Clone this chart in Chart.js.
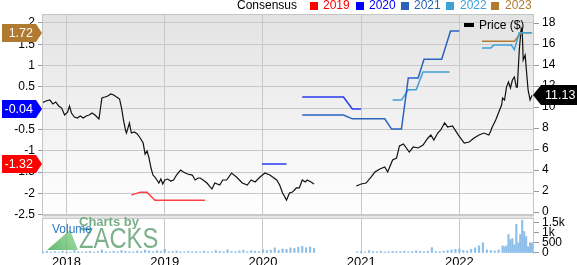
<!DOCTYPE html>
<html><head><meta charset="utf-8">
<script src="https://cdn.jsdelivr.net/npm/chart.js@4.4.0/dist/chart.umd.min.js"></script>
<style>
html,body{margin:0;padding:0;background:#fff;}
#wrap{position:relative;width:577px;height:265px;}
canvas{position:absolute;left:0;top:0;}
</style></head>
<body><div id="wrap"><canvas id="c1" width="577" height="265"></canvas><canvas id="c2" width="577" height="265"></canvas></div>
<script>
// ---------- DATA ----------
const yearTicks = [2018, 2019, 2020, 2021, 2022];
const leftTicks = [-2.5, -2, -1.5, -1, -0.5, 0, 0.5, 1, 1.5, 2];
const priceTicks = [0, 2, 4, 6, 8, 10, 12, 14, 16, 18];
const volumeTicks = [0, 500, 1000, 1500];
const volumeTickLabels = ['0', '500', '1k', '1.5k'];

const priceDates = [2017.75,2017.79,2017.83,2017.86,2017.89,2017.92,2017.95,2017.98,2018.01,2018.03,2018.05,2018.08,2018.11,2018.14,2018.17,2018.20,2018.23,2018.26,2018.29,2018.33,2018.36,2018.39,2018.42,2018.45,2018.48,2018.51,2018.54,2018.56,2018.58,2018.60,2018.61,2018.64,2018.66,2018.69,2018.72,2018.75,2018.78,2018.80,2018.82,2018.84,2018.86,2018.88,2018.90,2018.92,2018.94,2018.96,2018.98,2019.00,2019.03,2019.06,2019.09,2019.12,2019.16,2019.19,2019.23,2019.28,2019.31,2019.34,2019.36,2019.39,2019.43,2019.48,2019.51,2019.56,2019.59,2019.63,2019.68,2019.73,2019.79,2019.84,2019.88,2019.92,2019.97,2020.02,2020.07,2020.14,2020.17,2020.20,2020.24,2020.27,2020.30,2020.34,2020.37,2020.40,2020.43,2020.45,2020.49,2020.52,
  2020.70,
  2020.95,2021.00,2021.05,2021.10,2021.14,2021.19,2021.24,2021.27,2021.32,2021.36,2021.39,2021.43,2021.49,2021.53,2021.58,2021.63,2021.68,2021.71,2021.74,2021.78,2021.81,2021.85,2021.88,2021.93,2021.99,2022.05,2022.10,2022.15,2022.20,2022.25,2022.30,2022.32,2022.33,2022.37,2022.41,2022.43,2022.44,2022.46,2022.48,2022.50,2022.52,2022.54,2022.56,2022.58,2022.59,2022.61,2022.63,2022.64,2022.65,2022.67,2022.68,2022.70,2022.72,2022.74];
const priceValues = [10.38,10.57,10.67,10.29,10.48,10.10,9.90,9.24,9.52,10.10,9.43,9.05,8.95,9.14,8.95,9.14,9.24,9.43,9.24,8.86,10.86,10.95,11.05,11.24,11.14,10.95,10.76,9.90,8.76,7.81,7.52,8.48,7.52,7.62,7.43,7.05,6.57,5.52,5.81,5.14,4.19,3.52,3.33,3.05,2.76,3.14,2.67,3.05,3.14,2.95,3.05,3.52,4.00,3.81,3.62,3.52,3.05,3.24,3.24,3.05,2.76,2.19,2.76,2.57,3.05,3.05,3.71,3.33,2.76,2.57,3.05,2.86,3.33,3.71,3.52,3.05,2.57,1.81,1.14,1.81,1.90,2.29,2.29,3.05,2.86,3.05,2.86,2.67,
  null,
  2.48,2.67,2.76,3.33,3.81,4.10,4.29,3.81,4.95,5.14,6.30,6.48,5.71,6.19,6.10,6.38,7.05,7.33,6.86,7.52,7.81,8.48,8.10,8.20,7.33,6.57,6.67,7.05,7.33,7.52,7.33,7.71,8.00,8.76,9.71,10.19,10.86,10.67,11.90,12.38,11.81,12.57,12.86,11.90,11.90,15.43,17.52,17.30,14.48,14.95,13.80,11.60,10.67,11.13];

const cons2019Dates = [2018.66, 2018.75, 2018.82, 2018.90, 2019.41];
const cons2019 = [-2.04, -1.97, -1.97, -2.16, -2.16];
const cons2020Dates = [2019.99, 2020.24, 2020.32, 2020.40, 2020.82, 2020.91, 2021.00];
const cons2020 = [-1.31, -1.31, null, 0.26, 0.26, -0.02, -0.02];
const cons2021Dates = [2020.40, 2020.82, 2020.91, 2021.24, 2021.31, 2021.41, 2021.48, 2021.58, 2021.64, 2021.82, 2021.91, 2022.00];
const cons2021 = [-0.16, -0.16, -0.25, -0.25, -0.49, -0.49, 0.71, 0.71, 1.15, 1.15, 1.81, 1.81];
const cons2022Dates = [2021.32, 2021.41, 2021.48, 2021.56, 2021.63, 2021.90, 2022.10, 2022.23, 2022.32, 2022.35, 2022.53, 2022.56, 2022.61, 2022.74];
const cons2022 = [0.19, 0.19, 0.43, 0.43, 0.85, 0.85, null, 1.41, 1.41, 1.48, 1.48, 1.37, 1.77, 1.77];
const cons2023Dates = [2022.23, 2022.56, 2022.63, 2022.74];
const cons2023 = [1.57, 1.57, 1.77, 1.77];

// volume: three runs of dates (start, step) with values
const volA_start = 2017.76, volA_step = 0.04;
const volA = [60,80,50,70,40,90,60,50,120,70, 50,60,80,40,70,150,60,50,90,60, 120,80,60,50,100,70,140,90,60,110, 80,180,60,70,100,60,50,80,60,70, 50,90,60,50,120,80,60,150,70,60, 100,130,60,110,90,70,160,120,140,250, 120,200,180,250,220,280,330,260,300,220];
const volB_start = 2020.96, volB_step = 0.04;
const volB = [60,90,50,120,70,60,90,50,60,80, 60,70,90,60,70,110,80,60,90,260, 70,60,90,120,150,180,200,120,100,180, 250,350,500,150,120,100,150,350];
const volC_start = 2022.46, volC_step = 0.02;
const volC = [300,350,900,650,700,400,1400,500,900,1600,1050,800,300,500,500];

const badgeLeft = [
  {text:'1.72', color:'#b07a30', series:'2023'},
  {text:'-0.04', color:'#0000ff', series:'2020'},
  {text:'-1.32', color:'#ff0000', value:-1.32}
];
const priceLast = '11.13';
const legendItems = [
  {label:'2019', color:'#ff0000'},
  {label:'2020', color:'#0000ff'},
  {label:'2021', color:'#2a62b8'},
  {label:'2022', color:'#3fa0d6'},
  {label:'2023', color:'#b07a30'}
];

// ---------- HELPERS ----------
const FONT = '"Liberation Sans", Arial, Helvetica, sans-serif';
const X_MIN = 2017.75, X_MAX = 2022.76;
function zip(xs, ys){ return xs.map((x,i)=>({x:x, y:ys[i]})); }
function run(start, step, vals){ return vals.map((v,i)=>({x:+(start+i*step).toFixed(3), y:v})); }
const volData = run(volA_start,volA_step,volA).concat(run(volB_start,volB_step,volB), run(volC_start,volC_step,volC));

function leftBadge(ctx, y, text, color){
  ctx.save();
  ctx.beginPath();
  ctx.moveTo(2, y-9); ctx.lineTo(36, y-9); ctx.lineTo(42, y); ctx.lineTo(36, y+9); ctx.lineTo(2, y+9); ctx.closePath();
  ctx.fillStyle = color; ctx.fill();
  ctx.fillStyle = '#fff'; ctx.font = '12.5px ' + FONT; ctx.textAlign = 'right'; ctx.textBaseline = 'middle';
  ctx.fillText(text, 33, y+0.5);
  ctx.restore();
}

const bgPlugin = {
  id:'bg',
  beforeDraw(chart){
    const {ctx, chartArea:a} = chart;
    ctx.save();
    ctx.fillStyle = '#fff'; ctx.fillRect(0,0,chart.width,chart.height);
    const g = ctx.createLinearGradient(0, a.top, 0, a.bottom);
    g.addColorStop(0, '#e3e3e3'); g.addColorStop(1, '#ffffff');
    ctx.fillStyle = g; ctx.fillRect(a.left, a.top, a.right-a.left, a.bottom-a.top);
    ctx.restore();
  }
};

const overlayPlugin = {
  id:'overlay',
  afterDraw(chart){
    const {ctx, chartArea:a} = chart;
    ctx.save();
    // borders
    ctx.strokeStyle = '#c4c4c4'; ctx.lineWidth = 1;
    ctx.beginPath();
    ctx.moveTo(a.left, a.top+0.5); ctx.lineTo(a.right, a.top+0.5);
    ctx.moveTo(a.left+0.5, a.top); ctx.lineTo(a.left+0.5, 254);
    ctx.moveTo(a.right-0.5, a.top); ctx.lineTo(a.right-0.5, 254);
    ctx.stroke();
    // separator
    ctx.fillStyle = '#e6e6e6'; ctx.fillRect(a.left, 215.5, a.right-a.left, 3);
    ctx.strokeStyle = '#c8c8c8';
    ctx.beginPath(); ctx.moveTo(a.left, 215.5); ctx.lineTo(a.right, 215.5);
    ctx.moveTo(a.left, 218.5); ctx.lineTo(a.right, 218.5); ctx.stroke();

    // top legend
    ctx.font = '12px ' + FONT; ctx.textBaseline = 'middle'; ctx.textAlign = 'left';
    ctx.fillStyle = '#000'; ctx.fillText('Consensus', 237, 6);
    const sq = [310, 356, 401, 446, 491], tx = [323, 369, 414, 460, 505];
    legendItems.forEach((it,i)=>{
      ctx.fillStyle = it.color; ctx.fillRect(sq[i], 2, 8, 8);
      ctx.fillText(it.label, tx[i], 6);
    });

    // price legend
    ctx.fillStyle = '#000'; ctx.fillRect(464, 23, 10, 4);
    ctx.fillText('Price ($)', 479, 25.5);

    // left badges
    const yL = chart.scales.yL;
    badgeLeft.forEach(b=>{
      let v = b.value;
      if (b.series){
        const ds = chart.data.datasets.find(d=>d.label===b.series);
        v = ds.data[ds.data.length-1].y;
      }
      leftBadge(ctx, Math.round(yL.getPixelForValue(v)), b.text, b.color);
    });

    // right price badge
    const yR = chart.scales.yR;
    const py = Math.round(yR.getPixelForValue(parseFloat(priceLast)));
    ctx.beginPath();
    ctx.moveTo(533, py); ctx.lineTo(541, py-10); ctx.lineTo(577, py-10); ctx.lineTo(577, py+10); ctx.lineTo(541, py+10); ctx.closePath();
    ctx.fillStyle = '#000'; ctx.fill();
    ctx.fillStyle = '#fff'; ctx.font = '12.5px ' + FONT; ctx.textAlign = 'left';
    ctx.fillText(priceLast, 545, py+0.5);
    ctx.restore();
  }
};

const axisFont = {family: FONT, size: 12};

new Chart(document.getElementById('c1'), {
  type: 'line',
  data: { datasets: [
    {label:'2019', data: zip(cons2019Dates, cons2019), borderColor:'#ff4040', borderWidth:1.5, yAxisID:'yL'},
    {label:'2020', data: zip(cons2020Dates, cons2020), borderColor:'#2a3cf0', borderWidth:1.5, yAxisID:'yL'},
    {label:'2021', data: zip(cons2021Dates, cons2021), borderColor:'#2a62c0', borderWidth:1.5, yAxisID:'yL'},
    {label:'2022', data: zip(cons2022Dates, cons2022), borderColor:'#3fa0d8', borderWidth:1.5, yAxisID:'yL'},
    {label:'2023', data: zip(cons2023Dates, cons2023), borderColor:'#b07a30', borderWidth:1.5, yAxisID:'yL'},
    {label:'Price', data: zip(priceDates, priceValues), borderColor:'#111', borderWidth:1.2, yAxisID:'yR'}
  ]},
  options: {
    responsive:false, animation:false, devicePixelRatio:1,
    layout:{padding:{top:14, bottom:49, left:0, right:0}},
    plugins:{legend:{display:false}, tooltip:{enabled:false}},
    elements:{point:{radius:0}, line:{tension:0}},
    spanGaps:false,
    scales:{
      x:{type:'linear', min:X_MIN, max:X_MAX,
        afterBuildTicks(s){ s.ticks = yearTicks.map(v=>({value:v})); },
        ticks:{display:false},
        grid:{color:'#c8c8c8', drawTicks:false},
        border:{display:false},
        afterFit(s){ s.height = 0; }
      },
      yL:{position:'left', min:-2.53, max:2.21,
        afterBuildTicks(s){ s.ticks = leftTicks.map(v=>({value:v})); },
        ticks:{font:axisFont, color:'#000', padding:3, autoSkip:false, callback:v=>String(Math.round(v*10)/10)},
        grid:{color:'#c8c8c8', tickLength:4, tickColor:'#999'},
        border:{display:false},
        afterFit(s){ s.width = 42; }
      },
      yR:{position:'right', min:-0.38, max:18.86,
        afterBuildTicks(s){ s.ticks = priceTicks.map(v=>({value:v})); },
        ticks:{font:axisFont, color:'#000', padding:3, autoSkip:false, callback:v=>String(v)},
        grid:{drawOnChartArea:false, tickLength:5, tickColor:'#999'},
        border:{display:false},
        afterFit(s){ s.width = 43; }
      }
    }
  },
  plugins:[bgPlugin, overlayPlugin]
});

const watermarkPlugin = {
  id:'wm',
  afterDraw(chart){
    const ctx = chart.ctx;
    ctx.save();
    const g = ctx.createLinearGradient(48, 250, 76, 230);
    g.addColorStop(0, 'rgba(60,170,80,0.8)'); g.addColorStop(1, 'rgba(140,210,140,0.8)');
    ctx.beginPath(); ctx.moveTo(47, 250); ctx.lineTo(70, 230); ctx.lineTo(78, 250); ctx.closePath();
    ctx.fillStyle = g; ctx.fill();
    ctx.fillStyle = 'rgba(85,155,105,0.8)';
    ctx.font = 'bold 13px ' + FONT; ctx.textBaseline = 'middle'; ctx.textAlign = 'left';
    ctx.fillText('Charts by', 79, 222);
    ctx.save();
    ctx.translate(79, 240); ctx.scale(0.82, 1);
    ctx.font = '29px ' + FONT; ctx.fillStyle = 'rgba(80,150,100,0.75)';
    ctx.fillText('ZACKS', 0, 0);
    ctx.restore();
    ctx.fillStyle = '#2a78c8'; ctx.font = '12px ' + FONT;
    ctx.fillText('Volume', 52, 229.5);
    ctx.restore();
  }
};

new Chart(document.getElementById('c2'), {
  type:'bar',
  data:{ datasets:[{label:'Volume', data: volData, backgroundColor:'#8dbfe8', barThickness:1.5, yAxisID:'yV'}]},
  options:{
    responsive:false, animation:false, devicePixelRatio:1,
    layout:{padding:{top:218, bottom:0, left:42, right:0}},
    plugins:{legend:{display:false}, tooltip:{enabled:false}},
    scales:{
      x:{type:'linear', min:X_MIN, max:X_MAX, offset:false,
        afterBuildTicks(s){ s.ticks = yearTicks.map(v=>({value:v})); },
        ticks:{font:{family:FONT, size:13}, color:'#000', padding:1, maxRotation:0, autoSkip:false, callback:v=>String(v)},
        grid:{color:'#c8c8c8', drawTicks:false, offset:false},
        border:{display:false},
        afterFit(s){ s.height = 11; }
      },
      yV:{position:'right', min:-50, max:1710,
        afterBuildTicks(s){ s.ticks = volumeTicks.map(v=>({value:v})); },
        ticks:{font:axisFont, color:'#000', padding:3, autoSkip:false, callback:(v)=>volumeTickLabels[volumeTicks.indexOf(v)]},
        grid:{drawOnChartArea:false, tickLength:5, tickColor:'#999'},
        border:{display:false},
        afterFit(s){ s.width = 43; }
      }
    }
  },
  plugins:[watermarkPlugin]
});
</script>
</body></html>
